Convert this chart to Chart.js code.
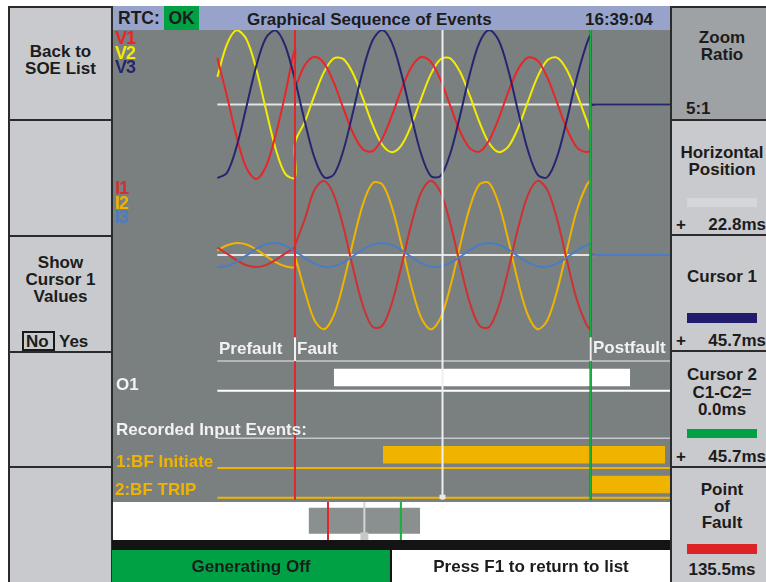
<!DOCTYPE html>
<html lang="en">
<head>
<meta charset="UTF-8">
<title>Graphical Sequence of Events</title>
<script src="https://cdn.jsdelivr.net/npm/chart.js"></script>
<style>
    body {
        margin: 0; width: 766px; height: 582px; position: relative; overflow: hidden;
        background: #ffffff; color: #1c1c1c;
        font-family: "Liberation Sans", Arial, sans-serif; font-weight: bold; font-size: 17px;
    }
    canvas { position: absolute; }
    #wave { left: 112px; top: 30px; background: #7a7f7f; }
    #overview { left: 112px; top: 502px; background: #ffffff; }
    .box { position: absolute; box-sizing: border-box; }
    .key { position: absolute; box-sizing: border-box; border: 2px solid #2b2b2b; background: #c9cacd; }
    .txt { position: absolute; white-space: nowrap; line-height: 17px; }
    .lk { left: 10px; width: 101px; text-align: center; }
    .rk { left: 672px; width: 100px; text-align: center; }
    .bar { position: absolute; left: 687px; width: 70px; }
    .lbl { position: absolute; white-space: nowrap; line-height: 17px; color: #f2f2f2; }
    .amber { color: #f0b400; }
</style>
</head>
<body>
    <canvas id="wave" width="558" height="472"></canvas>
    <canvas id="overview" width="558" height="38"></canvas>

    <!-- horni lista -->
    <div class="box" style="left:112px;top:6px;width:558px;height:24px;background:#98a3cc;"></div>
    <div class="box" style="left:164px;top:6px;width:35px;height:24px;background:#00a044;"></div>
    <div class="txt" style="left:118px;top:10px;font-size:17.5px;">RTC:</div>
    <div class="txt" style="left:164px;width:35px;text-align:center;top:10px;font-size:17.5px;">OK</div>
    <div class="txt" style="left:247px;top:10.5px;">Graphical Sequence of Events</div>
    <div class="txt" style="left:585px;top:10.5px;">16:39:04</div>

    <!-- leve klavesy -->
    <div class="key" style="left:8px;top:6px;width:105px;height:115px;"></div>
    <div class="key" style="left:8px;top:119px;width:105px;height:118px;"></div>
    <div class="key" style="left:8px;top:235px;width:105px;height:118px;"></div>
    <div class="key" style="left:8px;top:351px;width:105px;height:117px;"></div>
    <div class="key" style="left:8px;top:466px;width:105px;height:118px;"></div>
    <div class="txt lk" style="top:43px;">Back to<br>SOE List</div>
    <div class="txt lk" style="top:254px;">Show<br>Cursor 1<br>Values</div>
    <div class="box" style="left:22px;top:331px;width:33px;height:20px;border:2px solid #1a1a1a;"></div>
    <div class="txt" style="left:26px;top:333px;">No</div>
    <div class="txt" style="left:59px;top:333px;">Yes</div>

    <!-- prave klavesy -->
    <div class="key" style="left:670px;top:6px;width:106px;height:115px;background:#9fa2a4;"></div>
    <div class="key" style="left:670px;top:119px;width:106px;height:117px;"></div>
    <div class="key" style="left:670px;top:234px;width:106px;height:118px;"></div>
    <div class="key" style="left:670px;top:350px;width:106px;height:118px;"></div>
    <div class="key" style="left:670px;top:466px;width:106px;height:118px;"></div>
    <div class="txt rk" style="top:28.5px;">Zoom<br>Ratio</div>
    <div class="txt" style="left:686px;top:99.5px;">5:1</div>
    <div class="txt rk" style="top:144px;">Horizontal<br>Position</div>
    <div class="bar" style="top:198px;height:9px;background:#d5d6d9;"></div>
    <div class="txt" style="left:676px;top:216px;">+</div>
    <div class="txt" style="right:0;top:216px;">22.8ms</div>
    <div class="txt rk" style="top:268px;">Cursor 1</div>
    <div class="bar" style="top:313px;height:10px;background:#221c6c;"></div>
    <div class="txt" style="left:676px;top:332px;">+</div>
    <div class="txt" style="right:0;top:332px;">45.7ms</div>
    <div class="txt rk" style="top:366px;line-height:17.5px;">Cursor 2<br>C1-C2=<br>0.0ms</div>
    <div class="bar" style="top:429px;height:9px;background:#00a044;"></div>
    <div class="txt" style="left:676px;top:448px;">+</div>
    <div class="txt" style="right:0;top:448px;">45.7ms</div>
    <div class="txt rk" style="top:482px;line-height:16.5px;">Point<br>of<br>Fault</div>
    <div class="bar" style="top:544px;height:10px;background:#dc2426;"></div>
    <div class="txt rk" style="top:561px;">135.5ms</div>

    <!-- spodni lista -->
    <div class="box" style="left:112px;top:540px;width:558px;height:10px;background:#141414;"></div>
    <div class="box" style="left:112px;top:550px;width:278px;height:32px;background:#00a044;"></div>
    <div class="box" style="left:390px;top:550px;width:2px;height:32px;background:#141414;"></div>
    <div class="txt" style="left:112px;width:278px;text-align:center;top:558px;">Generating Off</div>
    <div class="txt" style="left:392px;width:278px;text-align:center;top:558px;">Press F1 to return to list</div>

    <!-- popisky kanalu -->
    <div class="lbl" style="left:115px;top:31px;font-size:18px;line-height:14.5px;letter-spacing:-1px;">
        <span style="color:#e8262a">V1</span><br><span style="color:#f4ec00">V2</span><br><span style="color:#26266f">V3</span>
    </div>
    <div class="lbl" style="left:115px;top:181px;font-size:18px;line-height:14.5px;letter-spacing:-1px;">
        <span style="color:#d03030">I1</span><br><span style="color:#f0b400">I2</span><br><span style="color:#4a7cc4">I3</span>
    </div>
    <div class="lbl" style="left:219px;top:339.5px;">Prefault</div>
    <div class="lbl" style="left:297px;top:339.5px;">Fault</div>
    <div class="lbl" style="left:593px;top:339px;">Postfault</div>
    <div class="lbl" style="left:116px;top:376px;">O1</div>
    <div class="lbl" style="left:116px;top:421px;">Recorded Input Events:</div>
    <div class="lbl amber" style="left:116px;top:453px;">1:BF Initiate</div>
    <div class="lbl amber" style="left:115px;top:481px;">2:BF TRIP</div>

    <script>
        // cas v ms vztazeny k poruse (zaznam 60 Hz); 0 je okamzik poruchy
        const timeMs = [-12, -10.5, -9, -7.5, -6, -4.5, -3, -1.5, 0, 0,
            1.5, 3, 4.5, 6, 7.5, 9, 10.5, 12, 13.5, 15, 16.5, 18, 19.5, 21, 22.5,
            24, 25.5, 27, 28.5, 30, 31.5, 33, 34.5, 36, 37.5, 39, 40.5, 42, 43.5, 45,
            45.7, 45.7, 46.5, 58];

        // napeti (p.u.)
        const v1 = [0.625, 0.109, -0.441, -0.853, -1.000, -0.835, -0.411, 0.142, 0.74, 0.250,
            0.527, 0.640, 0.553, 0.294, -0.056, -0.389, -0.601, -0.625, -0.455, -0.144, 0.213, 0.503, 0.637, 0.572, 0.329,
            -0.016, -0.356, -0.586, -0.633, -0.483, -0.182, 0.175, 0.477, 0.631, 0.589, 0.363, 0.024, -0.322, -0.568, -0.638,
            -0.601, 0, 0, 0];
        const v2 = [0.371, 0.810, 0.998, 0.875, 0.480, -0.065, -0.590, -0.931, -0.982, -0.518,
            -0.236, 0.119, 0.438, 0.620, 0.609, 0.409, 0.081, -0.272, -0.540, -0.640, -0.541, -0.273, 0.079, 0.407, 0.608,
            0.620, 0.439, 0.121, -0.235, -0.517, -0.639, -0.561, -0.309, 0.039, 0.375, 0.595, 0.629, 0.467, 0.160, -0.197,
            -0.349, 0, 0, 0];
        const v3 = [-0.988, -0.916, -0.559, -0.028, 0.512, 0.893, 0.995, 0.788, 0.335, 0.335,
            -0.222, -0.710, -0.977, -0.940, -0.610, -0.090, 0.457, 0.863, 0.999, 0.825, 0.394, -0.160, -0.665, -0.961, -0.959,
            -0.658, -0.153, 0.401, 0.829, 1.000, 0.859, 0.451, -0.098, -0.616, -0.942, -0.975, -0.704, -0.214, 0.342, 0.793,
            0.924, 0, 0, 0];

        // proudy (nasobky predporuchoveho proudu)
        const i1 = [0.625, 0.109, -0.441, -0.853, -1.000, -0.835, -0.411, 0.142, 0.650, 0.80,
            2.96, 5.40, 6.16, 5.00, 2.29, -1.14, -4.21, -5.97, -5.87, -3.94, -0.79, 2.61, 5.20, 6.17, 5.22,
            2.64, -0.76, -3.92, -5.86, -5.98, -4.23, -1.17, 2.26, 4.98, 6.16, 5.41, 2.99, -0.37, -3.61, -5.73,
            -6.13, 0, 0, 0];
        const i2 = [0.371, 0.810, 0.998, 0.875, 0.480, -0.065, -0.590, -0.931, -0.982, -0.15,
            -2.96, -5.40, -6.16, -5.00, -2.29, 1.14, 4.21, 5.97, 5.87, 3.94, 0.79, -2.61, -5.20, -6.17, -5.22,
            -2.64, 0.76, 3.92, 5.86, 5.98, 4.23, 1.17, -2.26, -4.98, -6.16, -5.41, -2.99, 0.37, 3.61, 5.73,
            6.13, 0, 0, 0];
        const i3 = [-0.988, -0.916, -0.559, -0.028, 0.512, 0.893, 0.995, 0.788, 0.335, 0.335,
            -0.222, -0.710, -0.977, -0.940, -0.610, -0.090, 0.457, 0.863, 0.999, 0.825, 0.394, -0.160, -0.665, -0.961, -0.959,
            -0.658, -0.153, 0.401, 0.829, 1.000, 0.859, 0.451, -0.098, -0.616, -0.942, -0.975, -0.704, -0.214, 0.342, 0.793,
            0.924, 0, 0, 0];

        // kurzory a poloha okna
        const faultMs = 0;
        const cursor1Ms = 45.7;
        const cursor2Ms = 45.7;
        const horizPosMs = 22.8;
        const pointOfFaultMs = 135.5;   // porucha v celem zaznamu
        const recordLengthMs = 350;
        const windowHalfMs = 35;

        // binarni kanaly (radek = poloha na ose yD)
        const digitalNames = ['O1', '1:BF Initiate', '2:BF TRIP'];
        const digitalRow = [3.6, 1, 0];
        const digitalOnMs = [6.0, 13.6, 45.7];
        const digitalOffMs = [51.8, 57.2, 70];
        const separatorRows = [4.6, 2];

        const waveColors = { v1: '#e8262a', v2: '#f4ec00', v3: '#26266f', i1: '#d03030', i2: '#f0b400', i3: '#4a7cc4' };
        const digitalColors = ['#ffffff', '#f0b400', '#f0b400'];

        const toPts = vals => timeMs.map((t, k) => ({ x: t, y: vals[k] }));
        const wave = (label, vals, axis, color) => ({
            label: label, data: toPts(vals), yAxisID: axis,
            borderColor: color, borderWidth: 2, tension: 0.33, pointRadius: 0, fill: false
        });

        const datasets = [
            wave('V3', v3, 'yV', waveColors.v3),
            wave('I3', i3, 'yI', waveColors.i3),
            wave('V1', v1, 'yV', waveColors.v1),
            wave('I1', i1, 'yI', waveColors.i1),
            wave('V2', v2, 'yV', waveColors.v2),
            wave('I2', i2, 'yI', waveColors.i2)
        ];

        digitalNames.forEach((name, k) => {
            const row = digitalRow[k];
            // klidova uroven
            datasets.push({
                label: name, yAxisID: 'yD', pointRadius: 0, tension: 0, borderWidth: 2,
                borderColor: digitalColors[k], fill: false,
                data: [{ x: timeMs[0], y: row }, { x: timeMs[timeMs.length - 1], y: row }]
            });
            // aktivni stav
            datasets.push({
                label: name + ' on', yAxisID: 'yD', pointRadius: 0, tension: 0, borderWidth: 0.01,
                borderColor: 'rgba(0,0,0,0)', backgroundColor: digitalColors[k],
                fill: { value: row + 0.15 },
                data: [{ x: digitalOnMs[k], y: row + 0.74 }, { x: digitalOffMs[k], y: row + 0.74 }]
            });
        });

        const traceOverlay = {
            id: 'traceOverlay',
            beforeDatasetsDraw(chart) {
                const { ctx, chartArea: a, scales: s } = chart;
                const x0 = s.x.getPixelForValue(timeMs[0]);
                const hline = y => { ctx.beginPath(); ctx.moveTo(x0, y); ctx.lineTo(a.right, y); ctx.stroke(); };
                ctx.save();
                ctx.lineWidth = 2;
                ctx.strokeStyle = '#e4e4e4';
                hline(s.yV.getPixelForValue(0));
                hline(s.yI.getPixelForValue(0));
                ctx.lineWidth = 1.5;
                ctx.strokeStyle = '#c4c8c8';
                separatorRows.forEach(r => hline(s.yD.getPixelForValue(r)));
                ctx.restore();
            },
            afterDatasetsDraw(chart) {
                const { ctx, chartArea: a, scales: s } = chart;
                const bottom = s.yD.getPixelForValue(-0.07);
                const vline = (t, color, y1, y2) => {
                    const x = s.x.getPixelForValue(t);
                    ctx.strokeStyle = color;
                    ctx.beginPath(); ctx.moveTo(x, y1); ctx.lineTo(x, y2); ctx.stroke();
                };
                ctx.save();
                ctx.lineWidth = 2;
                vline(horizPosMs, '#efefef', a.top, bottom);
                vline(faultMs, '#e3262a', a.top, bottom);
                vline(cursor1Ms, '#221c6c', a.top, bottom);
                vline(cursor2Ms, '#18b040', a.top, bottom);
                // znacky Prefault / Fault / Postfault
                const tTop = s.yD.getPixelForValue(5.4), tBot = s.yD.getPixelForValue(4.6);
                vline(faultMs, '#f2f2f2', tTop, tBot);
                vline(cursor2Ms, '#f2f2f2', tTop, tBot);
                // znacka horizontalni polohy
                const hx = s.x.getPixelForValue(horizPosMs);
                ctx.fillStyle = '#e8e8e8';
                ctx.fillRect(hx - 3, s.yD.getPixelForValue(0.1), 6, s.yD.getPixelForValue(-0.05) - s.yD.getPixelForValue(0.1));
                ctx.restore();
            }
        };

        new Chart(document.getElementById('wave'), {
            type: 'line',
            data: { datasets: datasets },
            options: {
                responsive: false,
                animation: false,
                events: [],
                layout: { padding: 0 },
                plugins: { legend: { display: false }, tooltip: { enabled: false } },
                scales: {
                    x: { type: 'linear', min: -28.28, max: 57.96, display: false },
                    yV: { type: 'linear', min: -5.336, max: 1.0, display: false },
                    yI: { type: 'linear', min: -20.51, max: 18.69, display: false },
                    yD: { type: 'linear', min: -0.145, max: 15.747, display: false }
                }
            },
            plugins: [traceOverlay]
        });

        // prehled celeho zaznamu
        const overviewMarks = {
            id: 'overviewMarks',
            afterDatasetsDraw(chart) {
                const { ctx, chartArea: a, scales: s } = chart;
                const vline = (t, color) => {
                    const x = s.x.getPixelForValue(t);
                    ctx.strokeStyle = color;
                    ctx.beginPath(); ctx.moveTo(x, a.top); ctx.lineTo(x, a.bottom); ctx.stroke();
                };
                ctx.save();
                ctx.lineWidth = 2;
                vline(pointOfFaultMs + horizPosMs, '#d4d6d6');
                vline(pointOfFaultMs + faultMs, '#e3262a');
                vline(pointOfFaultMs + cursor2Ms, '#18b040');
                const hx = s.x.getPixelForValue(pointOfFaultMs + horizPosMs);
                ctx.fillStyle = '#c6c8c8';
                ctx.fillRect(hx - 4, s.y.getPixelForValue(0.05), 8, a.bottom - s.y.getPixelForValue(0.05));
                ctx.restore();
            }
        };

        const winCenter = pointOfFaultMs + horizPosMs;
        new Chart(document.getElementById('overview'), {
            type: 'line',
            data: {
                datasets: [{
                    label: 'window', pointRadius: 0, tension: 0, borderWidth: 0.01,
                    borderColor: 'rgba(0,0,0,0)', backgroundColor: '#8a8f8f', fill: { value: 0 },
                    data: [{ x: winCenter - windowHalfMs, y: 1 }, { x: winCenter + windowHalfMs, y: 1 }]
                }]
            },
            options: {
                responsive: false,
                animation: false,
                events: [],
                layout: { padding: 0 },
                plugins: { legend: { display: false }, tooltip: { enabled: false } },
                scales: {
                    x: { type: 'linear', min: 0, max: recordLengthMs, display: false },
                    y: { type: 'linear', min: -0.242, max: 1.22, display: false }
                }
            },
            plugins: [overviewMarks]
        });
    </script>
</body>
</html>
